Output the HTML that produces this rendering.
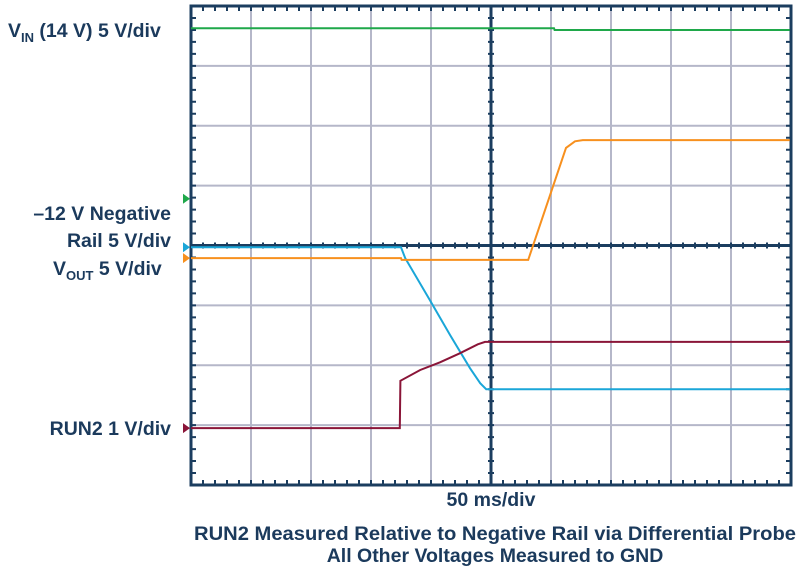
<!DOCTYPE html>
<html><head><meta charset="utf-8"><style>
body{margin:0;background:#fff;width:800px;height:574px;overflow:hidden;font-family:"Liberation Sans",sans-serif}
svg{position:absolute;left:0;top:0}
</style></head><body>
<svg width="800" height="574">
<g id="grid"></g><g id="traces"></g><g id="labels" font-family="Liberation Sans, sans-serif" font-weight="bold" fill="#1b3a5c" font-size="19.5">
<text x="8" y="37">V<tspan font-size="13" dy="5">IN</tspan><tspan dy="-5"> (14 V)  5 V/div</tspan></text>
<text x="171" y="220" text-anchor="end">–12 V Negative</text>
<text x="171" y="247" text-anchor="end">Rail 5 V/div</text>
<text x="53" y="275">V<tspan font-size="13" dy="5">OUT</tspan><tspan dy="-5"> 5 V/div</tspan></text>
<text x="171" y="435" text-anchor="end">RUN2 1 V/div</text>
<text x="491" y="506" text-anchor="middle">50 ms/div</text>
<text x="495" y="540" text-anchor="middle" textLength="602" lengthAdjust="spacingAndGlyphs">RUN2 Measured Relative to Negative Rail via Differential Probe</text>
<text x="495" y="562" text-anchor="middle">All Other Voltages Measured to GND</text>
</g></svg>
<script>
// data in scope divisions: x 0..10, y 0..8 (0 at bottom)
const vinT=[0,6.05,6.06,9.98];
const vinV=[7.63,7.63,7.60,7.60];
const negT=[0,3.5,3.57,3.98,4.32,4.65,4.82,4.92,9.98];
const negV=[3.97,3.97,3.79,3.09,2.50,1.95,1.70,1.60,1.60];
const voutT=[0,3.5,3.51,5.62,6.25,6.40,6.53,9.98];
const voutV=[3.79,3.79,3.76,3.76,5.63,5.74,5.76,5.76];
const runT=[0,3.48,3.49,3.82,4.15,4.48,4.78,4.9,9.98];
const runV=[0.95,0.95,1.74,1.92,2.05,2.20,2.35,2.39,2.39];
const markerV=[4.78,3.97,3.79,0.95];
const markerColors=['#1fa84a','#1aa6d8','#f7901e','#8a1538'];
const L=191,R=791,T=6,B=485;
const xs=t=>L+t*(R-L)/10, ys=v=>B-v*(B-T)/8;
const NS='http://www.w3.org/2000/svg';
function mk(tag,attrs,parent){const e=document.createElementNS(NS,tag);for(const k in attrs)e.setAttribute(k,attrs[k]);parent.appendChild(e);return e;}
const g=document.getElementById('grid');
for(let i=1;i<10;i++){if(i===5)continue;const l=mk('line',{x1:xs(i),x2:xs(i),y1:T,y2:B,stroke:'#b5b7c9','stroke-width':2},g);

}
for(let i=1;i<8;i++){if(i===4)continue;const l=mk('line',{x1:L,x2:R,y1:ys(i),y2:ys(i),stroke:'#b5b7c9','stroke-width':2},g);

}
const ax='#1b3d5f';
const c1=mk('line',{x1:xs(5),x2:xs(5),y1:T,y2:B,stroke:ax,'stroke-width':3},g);


const c2=mk('line',{x1:L,x2:R,y1:ys(4),y2:ys(4),stroke:ax,'stroke-width':3},g);


let tk='';
for(let i=0;i<=50;i++){const x=xs(i/5);tk+=`M${x} ${T}v5M${x} ${B}v-5M${x} ${ys(4)-3}v6`;}
for(let i=0;i<=40;i++){const y=ys(i/5);tk+=`M${L} ${y}h5M${R} ${y}h-5M${xs(5)-3} ${y}h6`;}
const tp=mk('path',{d:tk,stroke:ax,'stroke-width':2,fill:'none'},g);


const fr=mk('rect',{x:L,y:T,width:R-L,height:B-T,fill:'none',stroke:ax,'stroke-width':3},g);


const tr=document.getElementById('traces');
function trace(T_,V,color,name){const d=T_.map((t,i)=>(i?'L':'M')+xs(t).toFixed(1)+' '+ys(V[i]).toFixed(1)).join('');
const p=mk('path',{d:d,stroke:color,'stroke-width':2,fill:'none'},tr);

}
trace(vinT,vinV,'#1fa84a','vin-trace');
trace(negT,negV,'#1aa6d8','neg-rail-trace');
trace(voutT,voutV,'#f7901e','vout-trace');
trace(runT,runV,'#8a1538','run2-trace');
markerV.forEach((v,i)=>{const y=ys(v);const m=mk('path',{d:`M183 ${y-5}L190 ${y}L183 ${y+5}Z`,fill:markerColors[i]},tr);

});
</script>
</body></html>
